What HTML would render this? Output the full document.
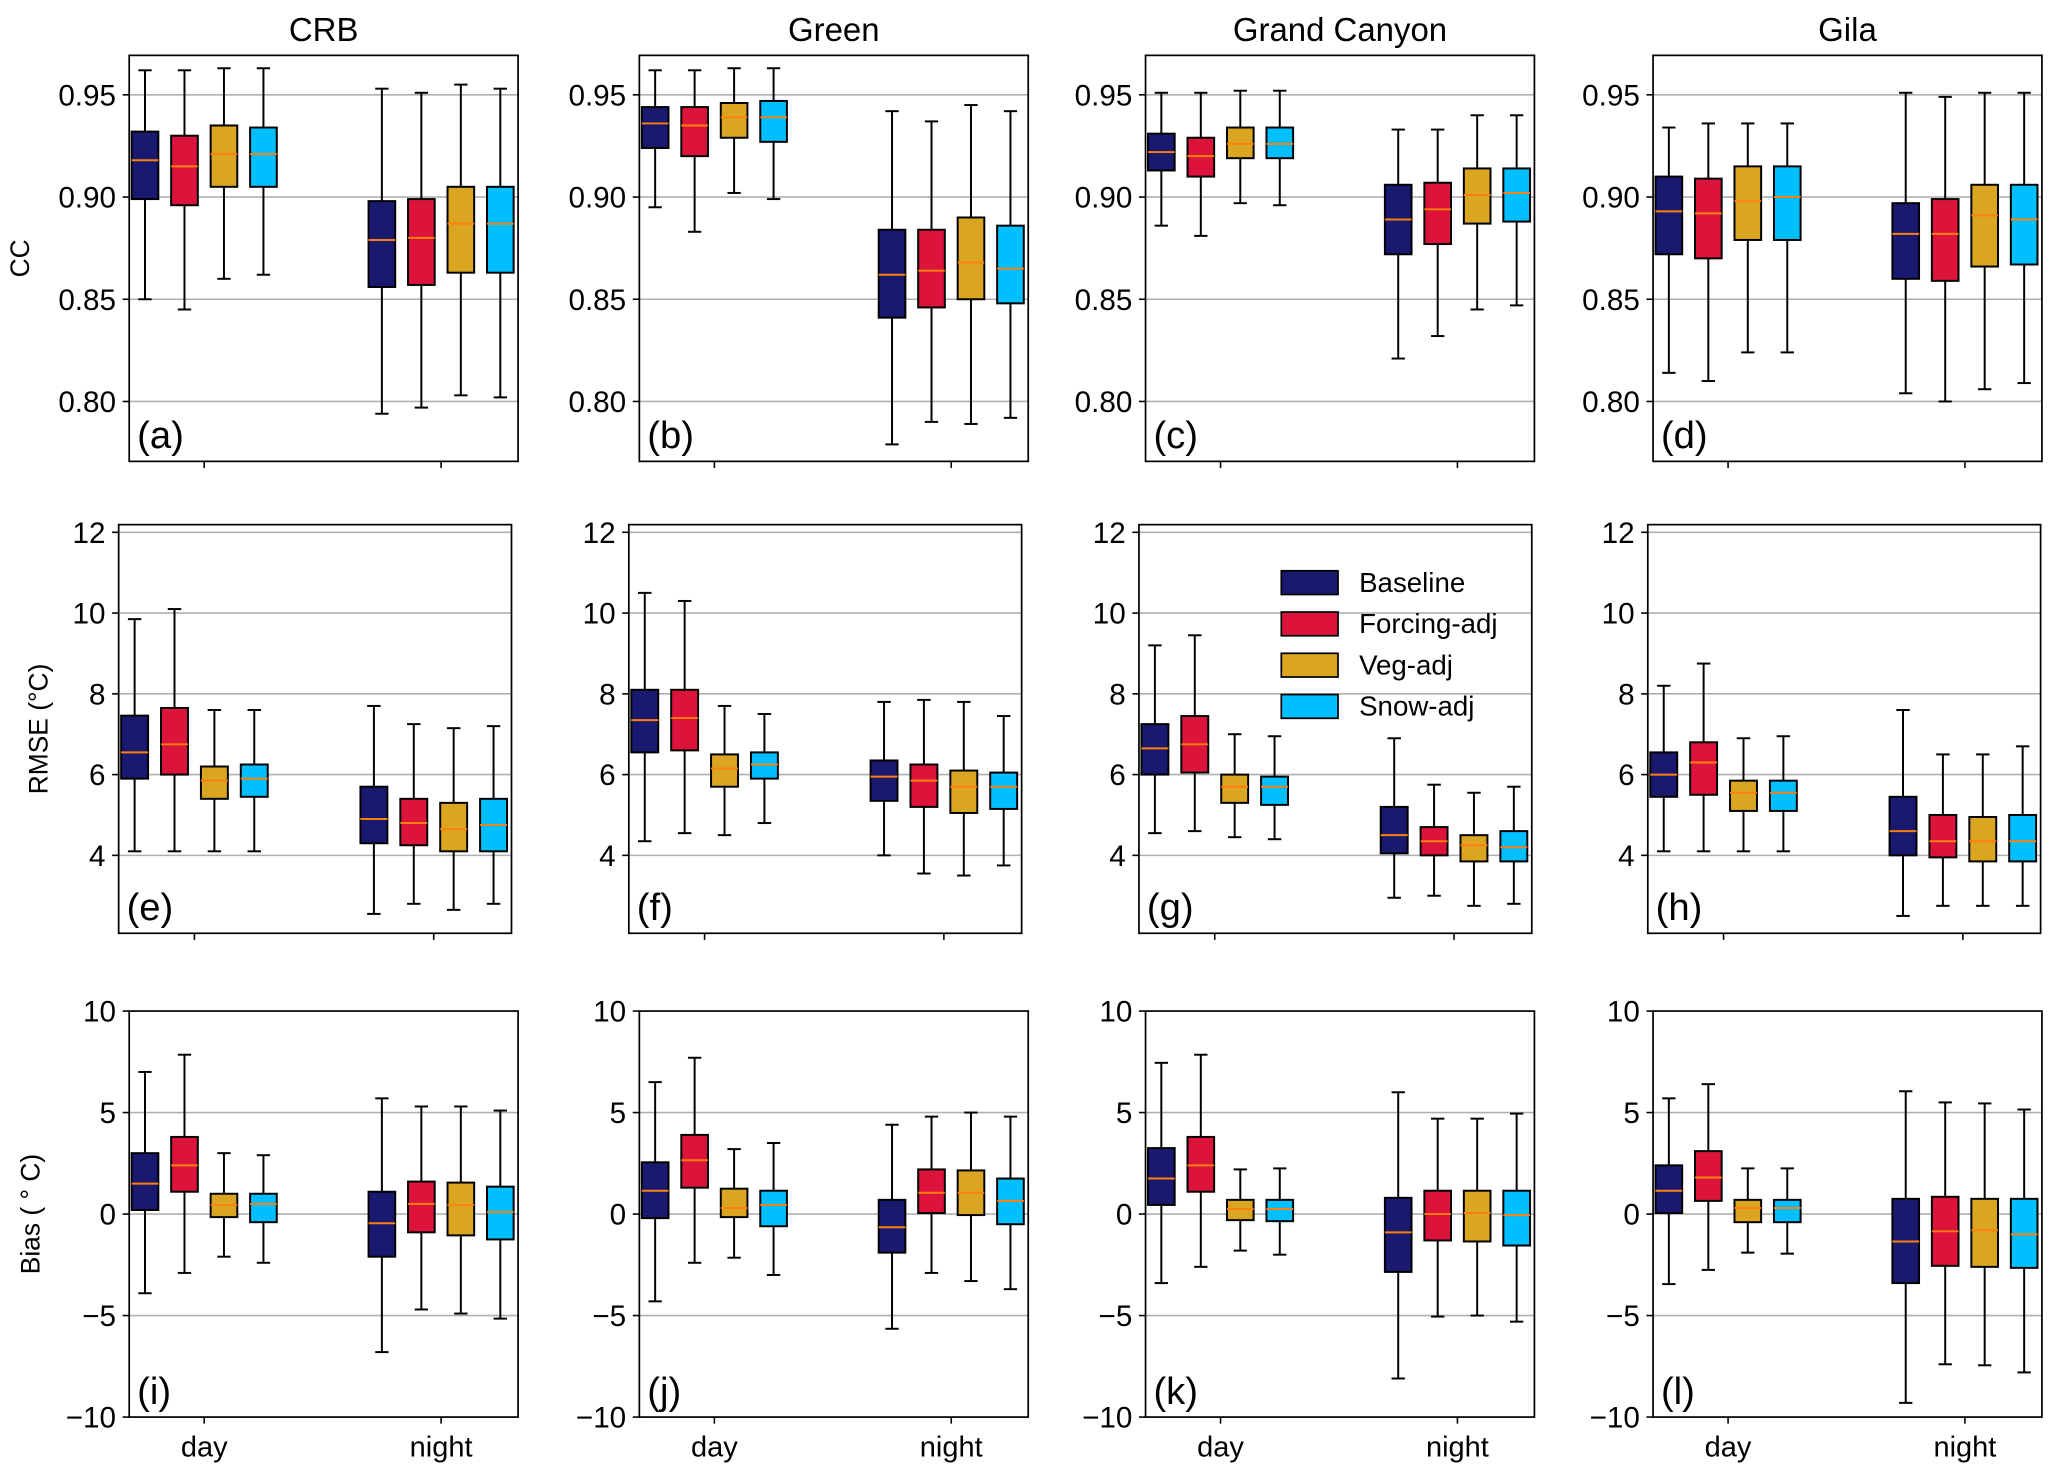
<!DOCTYPE html>
<html><head><meta charset="utf-8"><style>body{margin:0;background:#fff}svg{display:block}text{font-family:"Liberation Sans",sans-serif}</style></head>
<body>
<svg id="fig" width="2067" height="1481" viewBox="0 0 1568 1123.5" xmlns="http://www.w3.org/2000/svg"></svg>
<script>
const regions = ["CRB","Green","Grand Canyon","Gila"];
const series = ["Baseline","Forcing-adj","Veg-adj","Snow-adj"];
const colors = ["#191970","#dc143c","#daa520","#00bfff"];
const categories = ["day","night"];
const ccTicks = [0.80,0.85,0.90,0.95];
const rmseTicks = [4,6,8,10,12];
const biasTicks = [-10,-5,0,5,10];
// each box: [low whisker, q1, median, q3, high whisker]; [region][category][series]
const ccData = [
 [[[0.850,0.899,0.918,0.932,0.962],[0.845,0.896,0.915,0.930,0.962],[0.860,0.905,0.921,0.935,0.963],[0.862,0.905,0.921,0.934,0.963]],
  [[0.794,0.856,0.879,0.898,0.953],[0.797,0.857,0.880,0.899,0.951],[0.803,0.863,0.887,0.905,0.955],[0.802,0.863,0.887,0.905,0.953]]],
 [[[0.895,0.924,0.936,0.944,0.962],[0.883,0.920,0.935,0.944,0.962],[0.902,0.929,0.939,0.946,0.963],[0.899,0.927,0.939,0.947,0.963]],
  [[0.779,0.841,0.862,0.884,0.942],[0.790,0.846,0.864,0.884,0.937],[0.789,0.850,0.868,0.890,0.945],[0.792,0.848,0.865,0.886,0.942]]],
 [[[0.886,0.913,0.922,0.931,0.951],[0.881,0.910,0.920,0.929,0.951],[0.897,0.919,0.926,0.934,0.952],[0.896,0.919,0.926,0.934,0.952]],
  [[0.821,0.872,0.889,0.906,0.933],[0.832,0.877,0.894,0.907,0.933],[0.845,0.887,0.901,0.914,0.940],[0.847,0.888,0.902,0.914,0.940]]],
 [[[0.814,0.872,0.893,0.910,0.934],[0.810,0.870,0.892,0.909,0.936],[0.824,0.879,0.898,0.915,0.936],[0.824,0.879,0.900,0.915,0.936]],
  [[0.804,0.860,0.882,0.897,0.951],[0.800,0.859,0.882,0.899,0.949],[0.806,0.866,0.891,0.906,0.951],[0.809,0.867,0.889,0.906,0.951]]]
];
const rmseData = [
 [[[4.1,5.9,6.55,7.46,9.85],[4.1,6.0,6.75,7.65,10.1],[4.1,5.4,5.85,6.2,7.6],[4.1,5.45,5.9,6.25,7.6]],
  [[2.55,4.3,4.9,5.7,7.7],[2.8,4.25,4.8,5.4,7.25],[2.65,4.1,4.65,5.3,7.15],[2.8,4.1,4.75,5.4,7.2]]],
 [[[4.35,6.55,7.35,8.1,10.5],[4.55,6.6,7.4,8.1,10.3],[4.5,5.7,6.15,6.5,7.7],[4.8,5.9,6.25,6.55,7.5]],
  [[4.0,5.35,5.95,6.35,7.8],[3.55,5.2,5.85,6.25,7.85],[3.5,5.05,5.7,6.1,7.8],[3.75,5.15,5.7,6.05,7.45]]],
 [[[4.55,6.0,6.65,7.25,9.2],[4.6,6.05,6.75,7.45,9.45],[4.45,5.3,5.7,6.0,7.0],[4.4,5.25,5.7,5.95,6.95]],
  [[2.95,4.05,4.5,5.2,6.9],[3.0,4.0,4.35,4.7,5.75],[2.75,3.85,4.25,4.5,5.55],[2.8,3.85,4.2,4.6,5.7]]],
 [[[4.1,5.45,6.0,6.55,8.2],[4.1,5.5,6.3,6.8,8.75],[4.1,5.1,5.55,5.85,6.9],[4.1,5.1,5.55,5.85,6.95]],
  [[2.5,4.0,4.6,5.45,7.6],[2.75,3.95,4.35,5.0,6.5],[2.75,3.85,4.35,4.95,6.5],[2.75,3.85,4.35,5.0,6.7]]]
];
const biasData = [
 [[[-3.9,0.2,1.5,3.0,7.0],[-2.9,1.1,2.4,3.8,7.85],[-2.1,-0.15,0.45,1.0,3.0],[-2.4,-0.4,0.5,1.0,2.9]],
  [[-6.8,-2.1,-0.45,1.1,5.7],[-4.7,-0.9,0.5,1.6,5.3],[-4.9,-1.05,0.45,1.55,5.3],[-5.15,-1.25,0.1,1.35,5.1]]],
 [[[-4.3,-0.2,1.15,2.55,6.5],[-2.4,1.3,2.65,3.9,7.7],[-2.15,-0.15,0.3,1.25,3.2],[-3.0,-0.6,0.45,1.15,3.5]],
  [[-5.65,-1.9,-0.65,0.7,4.4],[-2.9,0.05,1.05,2.2,4.8],[-3.3,-0.05,1.05,2.15,5.0],[-3.7,-0.5,0.65,1.75,4.8]]],
 [[[-3.4,0.45,1.75,3.25,7.45],[-2.6,1.1,2.4,3.8,7.85],[-1.8,-0.3,0.25,0.7,2.2],[-2.0,-0.35,0.25,0.7,2.25]],
  [[-8.1,-2.85,-0.9,0.8,6.0],[-5.05,-1.3,0.0,1.15,4.7],[-5.0,-1.35,0.05,1.15,4.7],[-5.3,-1.55,-0.05,1.15,4.95]]],
 [[[-3.45,0.05,1.15,2.4,5.7],[-2.75,0.65,1.8,3.1,6.4],[-1.9,-0.4,0.3,0.7,2.25],[-1.95,-0.4,0.3,0.7,2.25]],
  [[-9.3,-3.4,-1.35,0.75,6.05],[-7.4,-2.55,-0.85,0.85,5.5],[-7.45,-2.6,-0.8,0.75,5.45],[-7.8,-2.65,-1.0,0.75,5.15]]]
];
const NS="http://www.w3.org/2000/svg";
const svg=document.getElementById('fig');
function mk(tag,attrs,parent,txt){const e=document.createElementNS(NS,tag);for(const k in attrs)e.setAttribute(k,attrs[k]);if(txt!==undefined)e.textContent=txt;(parent||svg).appendChild(e);return e;}
const catPos=[0,1.2], offs=[-0.3,-0.1,0.1,0.3], bw=0.135, xmin=-0.38, xmax=1.59;
const rows=[
 {data:ccData,ticks:ccTicks,ymin:0.7707,ymax:0.9693,top:42,bot:350,lefts:[98,485,869,1254],w:295,fmt:v=>v.toFixed(2),label:"CC",lx:22,name:"cc"},
 {data:rmseData,ticks:rmseTicks,ymin:2.07,ymax:12.19,top:398,bot:708,lefts:[90,477,864,1250],w:298,fmt:v=>String(v),label:"RMSE (°C)",lx:36,name:"rmse"},
 {data:biasData,ticks:biasTicks,ymin:-10,ymax:10,top:767,bot:1075,lefts:[98,485,869,1254],w:295,fmt:v=>v<0?"−"+(-v):String(v),label:"Bias ( ° C)",lx:30,name:"bias"}
];
const letters="abcdefghijkl";
rows.forEach((r,ri)=>{
 regions.forEach((reg,ci)=>{
  const L=r.lefts[ci],R=L+r.w,T=r.top,B=r.bot;
  const g=mk('g',{});
  
  
  const x=v=>L+(v-xmin)/(xmax-xmin)*(R-L);
  const y=v=>B-(v-r.ymin)/(r.ymax-r.ymin)*(B-T);
  r.ticks.forEach(t=>{
   const yy=y(t);
   if(yy>T+1&&yy<B-1){const gl=mk('line',{x1:L,x2:R,y1:yy,y2:yy,stroke:'#b0b0b0','stroke-width':1.2},g);
    }
   mk('line',{x1:L-5,x2:L,y1:yy,y2:yy,stroke:'#000','stroke-width':1.2},g);
   const tl=mk('text',{x:L-10,y:yy+8,'text-anchor':'end','font-size':22.5},g,r.fmt(t));
   
  });
  categories.forEach((c,k)=>{
   const xx=x(catPos[k]);
   mk('line',{x1:xx,x2:xx,y1:B,y2:B+5,stroke:'#000','stroke-width':1.2},g);
   if(ri===2){const xl=mk('text',{x:xx,y:B+30,'text-anchor':'middle','font-size':22},g,c);
    }
   series.forEach((s,si)=>{
    const d=r.data[ci][k][si];const cx=x(catPos[k]+offs[si]);
    const hw=(x(bw)-x(0))/2;
    const bg=mk('g',{},g);
    
    
    mk('line',{x1:cx,x2:cx,y1:y(d[0]),y2:y(d[1]),stroke:'#000','stroke-width':1.5},bg);
    mk('line',{x1:cx,x2:cx,y1:y(d[3]),y2:y(d[4]),stroke:'#000','stroke-width':1.5},bg);
    mk('line',{x1:cx-hw/2,x2:cx+hw/2,y1:y(d[0]),y2:y(d[0]),stroke:'#000','stroke-width':1.5},bg);
    mk('line',{x1:cx-hw/2,x2:cx+hw/2,y1:y(d[4]),y2:y(d[4]),stroke:'#000','stroke-width':1.5},bg);
    mk('rect',{x:cx-hw,y:y(d[3]),width:2*hw,height:y(d[1])-y(d[3]),fill:colors[si],stroke:'#000','stroke-width':1.5},bg);
    mk('line',{x1:cx-hw,x2:cx+hw,y1:y(d[2]),y2:y(d[2]),stroke:'#ff7f0e','stroke-width':1.5},bg);
   });
  });
  mk('rect',{x:L,y:T,width:R-L,height:B-T,fill:'none',stroke:'#000','stroke-width':1.3},g);
  const pl=mk('text',{x:L+6,y:B-10,'font-size':29},g,'('+letters[ri*4+ci]+')');
  
  if(ri===0){const tt=mk('text',{x:(L+R)/2,y:31,'text-anchor':'middle','font-size':25},g,reg);
   }
  if(ci===0){const cy=(T+B)/2;const yl=mk('text',{x:r.lx,y:cy,'text-anchor':'middle','font-size':20,transform:`rotate(-90 ${r.lx} ${cy})`},g,r.label);
   }
 });
});
const leg=mk('g',{});


series.forEach((s,i)=>{
 const yy=442+i*31.3;
 const e=mk('g',{},leg);
 
 
 mk('rect',{x:972,y:yy-9,width:43,height:18,fill:colors[i],stroke:'#000','stroke-width':1.3},e);
 mk('text',{x:1031,y:yy+7,'font-size':21},e,s);
});
</script>
</body></html>
